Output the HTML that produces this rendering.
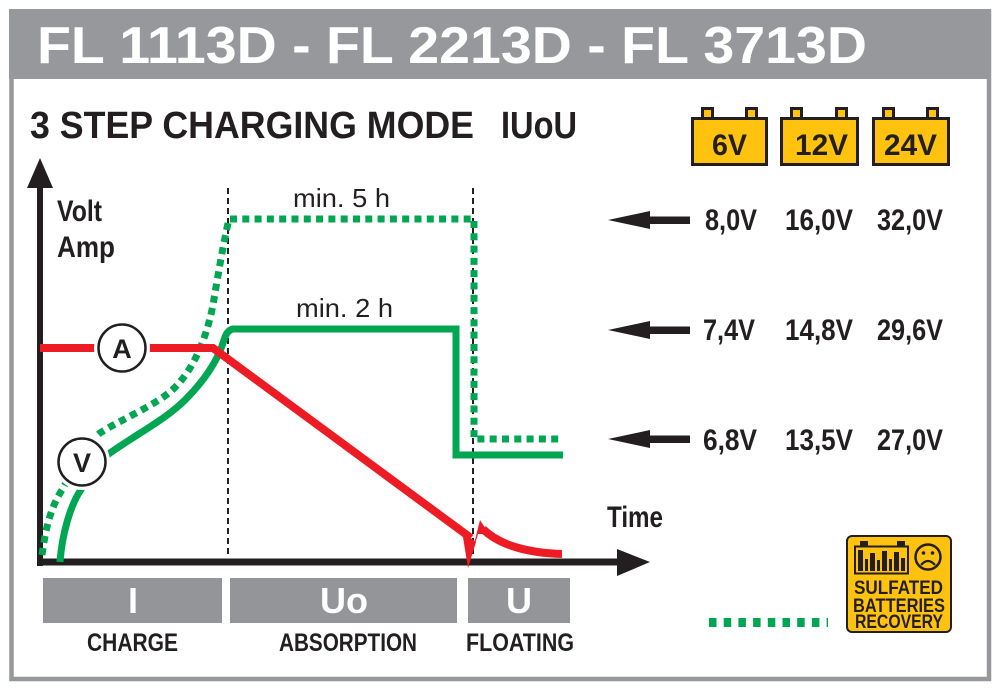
<!DOCTYPE html>
<html>
<head>
<meta charset="utf-8">
<style>
  html,body{margin:0;padding:0;background:#fff;}
  svg{display:block;}
  text{font-family:"Liberation Sans", sans-serif;}
</style>
</head>
<body>
<svg width="1000" height="691" viewBox="0 0 1000 691" xmlns="http://www.w3.org/2000/svg">
  <rect x="0" y="0" width="1000" height="691" fill="#fff"/>
  <!-- Frame -->
  <rect x="11.5" y="11.5" width="977.5" height="667.5" fill="none" stroke="#96989b" stroke-width="4.5"/>
  <rect x="9" y="9" width="982" height="70" fill="#96989b"/>
  <text x="37" y="63" font-size="52" font-weight="bold" fill="#fff" textLength="830" lengthAdjust="spacingAndGlyphs">FL 1113D - FL 2213D - FL 3713D</text>

  <!-- Title -->
  <text x="30" y="138" font-size="38" font-weight="bold" fill="#231f20" textLength="444" lengthAdjust="spacingAndGlyphs">3 STEP CHARGING MODE</text>
  <text x="501" y="138" font-size="38" font-weight="bold" fill="#231f20" textLength="76" lengthAdjust="spacingAndGlyphs">IUoU</text>

  <!-- Battery icons -->
  <g stroke="#231f20" stroke-width="3" fill="#ffc20e">
    <rect x="702.5" y="108.5" width="10" height="10"/>
    <rect x="746.5" y="108.5" width="10" height="10"/>
    <rect x="692.5" y="118.5" width="74" height="46"/>
    <rect x="791.5" y="108.5" width="10" height="10"/>
    <rect x="836.5" y="108.5" width="10" height="10"/>
    <rect x="781.5" y="118.5" width="76" height="46"/>
    <rect x="883.5" y="108.5" width="10" height="10"/>
    <rect x="927.5" y="108.5" width="10" height="10"/>
    <rect x="873.5" y="118.5" width="75" height="46"/>
  </g>
  <g font-size="30" font-weight="bold" fill="#231f20">
    <text x="712" y="155" textLength="35" lengthAdjust="spacingAndGlyphs">6V</text>
    <text x="795" y="155" textLength="53" lengthAdjust="spacingAndGlyphs">12V</text>
    <text x="884" y="155" textLength="53" lengthAdjust="spacingAndGlyphs">24V</text>
  </g>

  <!-- Right arrows -->
  <g fill="#231f20">
    <polygon points="608,220 650,211 650,229"/>
    <rect x="646" y="216.5" width="44" height="7.5"/>
    <polygon points="608,330 650,321 650,339"/>
    <rect x="646" y="326.5" width="44" height="7.5"/>
    <polygon points="608,439 650,430 650,448"/>
    <rect x="646" y="435.5" width="44" height="7.5"/>
  </g>
  <g font-size="30" font-weight="bold" fill="#231f20">
    <text x="705" y="230" textLength="52" lengthAdjust="spacingAndGlyphs">8,0V</text>
    <text x="785" y="230" textLength="68" lengthAdjust="spacingAndGlyphs">16,0V</text>
    <text x="877" y="230" textLength="66" lengthAdjust="spacingAndGlyphs">32,0V</text>
    <text x="703" y="340" textLength="52" lengthAdjust="spacingAndGlyphs">7,4V</text>
    <text x="785" y="340" textLength="68" lengthAdjust="spacingAndGlyphs">14,8V</text>
    <text x="877" y="340" textLength="66" lengthAdjust="spacingAndGlyphs">29,6V</text>
    <text x="703" y="450" textLength="54" lengthAdjust="spacingAndGlyphs">6,8V</text>
    <text x="785" y="450" textLength="68" lengthAdjust="spacingAndGlyphs">13,5V</text>
    <text x="877" y="450" textLength="66" lengthAdjust="spacingAndGlyphs">27,0V</text>
  </g>

  <!-- Axis labels -->
  <g font-weight="bold" fill="#231f20" font-size="30">
    <text x="57" y="221" textLength="45" lengthAdjust="spacingAndGlyphs">Volt</text>
    <text x="57" y="257" textLength="58" lengthAdjust="spacingAndGlyphs">Amp</text>
    <text x="607" y="527" textLength="56" lengthAdjust="spacingAndGlyphs">Time</text>
  </g>
  <g fill="#231f20" font-size="26">
    <text x="293" y="207" textLength="97" lengthAdjust="spacingAndGlyphs">min. 5 h</text>
    <text x="296" y="317" textLength="97" lengthAdjust="spacingAndGlyphs">min. 2 h</text>
  </g>

  <!-- Dashed phase dividers -->
  <g stroke="#231f20" stroke-width="2" stroke-dasharray="6 4" fill="none">
    <line x1="228" y1="188" x2="228" y2="555"/>
    <line x1="473" y1="188" x2="473" y2="555"/>
  </g>

  <!-- Axes -->
  <g fill="#231f20">
    <rect x="37" y="184" width="6" height="382"/>
    <polygon points="27,188 53,188 40,158"/>
    <rect x="37" y="558.5" width="583" height="7"/>
    <polygon points="617,549 617,576 650,562"/>
  </g>

  <!-- Dotted green (sulfated recovery) -->
  <path d="M42,555 C46,525 52,505 62,490 C72,472 85,445 100,433 C120,420 150,408 170,392 C190,375 205,345 213,305 C218,275 224,240 229,219 L474,219 L474,439 L563,439"
        fill="none" stroke="#00a651" stroke-width="7" stroke-dasharray="7 5.3"/>

  <!-- Solid green voltage -->
  <path d="M60,562 C62,535 70,505 82,488 C92,472 100,460 110,453 C135,435 165,420 185,400 C205,380 218,360 224,340 Q227,330 233,329 L456,329 L456,455 L563,455"
        fill="none" stroke="#00a651" stroke-width="7"/>

  <!-- Red current -->
  <path d="M40,348 L213,348 L471,538"
        fill="none" stroke="#ed1c24" stroke-width="8" stroke-linejoin="miter"/>
  <polygon points="462,531 476,542 468,568" fill="#ed1c24"/>
  <polygon points="468,568 480,520 489,534 478,534" fill="#ed1c24"/>
  <path d="M483,529 C500,546 530,553 562,554" fill="none" stroke="#ed1c24" stroke-width="8"/>

  <!-- Circles A and V -->
  <circle cx="122" cy="348" r="28" fill="#fff"/>
  <circle cx="122" cy="348" r="23.5" fill="#fff" stroke="#231f20" stroke-width="2.5"/>
  <text x="122" y="358" font-size="27" font-weight="bold" fill="#231f20" text-anchor="middle">A</text>
  <circle cx="82" cy="462" r="28" fill="#fff"/>
  <circle cx="82" cy="462" r="23.5" fill="#fff" stroke="#231f20" stroke-width="2.5"/>
  <text x="82" y="472" font-size="27" font-weight="bold" fill="#231f20" text-anchor="middle">V</text>

  <!-- Phase boxes -->
  <g fill="#939598">
    <rect x="43" y="578" width="179" height="45"/>
    <rect x="230" y="578" width="227" height="45"/>
    <rect x="468" y="578" width="102" height="45"/>
  </g>
  <g fill="#fff" font-size="36" font-weight="bold" text-anchor="middle">
    <text x="133" y="613">I</text>
    <text x="344" y="613">Uo</text>
    <text x="519" y="613">U</text>
  </g>
  <g fill="#231f20" font-size="25" font-weight="bold">
    <text x="87" y="651" textLength="91" lengthAdjust="spacingAndGlyphs">CHARGE</text>
    <text x="279" y="651" textLength="138" lengthAdjust="spacingAndGlyphs">ABSORPTION</text>
    <text x="466" y="651" textLength="108" lengthAdjust="spacingAndGlyphs">FLOATING</text>
  </g>

  <!-- Legend dotted -->
  <line x1="709" y1="622.5" x2="828" y2="622.5" stroke="#00a651" stroke-width="9" stroke-dasharray="7.5 7.2"/>

  <!-- Sulfated icon -->
  <rect x="847" y="536" width="104" height="96" rx="5" fill="#ffc20e" stroke="#231f20" stroke-width="2"/>
  <g fill="#231f20">
    <rect x="860" y="541" width="8" height="5"/>
    <rect x="897" y="541" width="8" height="5"/>
  </g>
  <rect x="855" y="546.5" width="53" height="27" fill="none" stroke="#231f20" stroke-width="2"/>
  <g fill="#231f20">
    <rect x="858" y="550" width="5" height="21"/>
    <rect x="865" y="559" width="3" height="12"/>
    <rect x="870" y="553" width="5" height="18"/>
    <rect x="877" y="560" width="3" height="11"/>
    <rect x="882" y="551" width="5" height="20"/>
    <rect x="889" y="559" width="3" height="12"/>
    <rect x="894" y="552" width="5" height="19"/>
    <rect x="901" y="558" width="4" height="13"/>
  </g>
  <circle cx="928" cy="557" r="12.5" fill="none" stroke="#231f20" stroke-width="2.5"/>
  <circle cx="923.5" cy="553" r="1.8" fill="#231f20"/>
  <circle cx="932.5" cy="553" r="1.8" fill="#231f20"/>
  <path d="M921,565 Q928,557 935,565" fill="none" stroke="#231f20" stroke-width="2.2"/>
  <g fill="#231f20" font-size="19.5" font-weight="bold">
    <text x="854" y="594" textLength="89" lengthAdjust="spacingAndGlyphs">SULFATED</text>
    <text x="853" y="612" textLength="92" lengthAdjust="spacingAndGlyphs">BATTERIES</text>
    <text x="855" y="628" textLength="88" lengthAdjust="spacingAndGlyphs">RECOVERY</text>
  </g>
</svg>
</body>
</html>
